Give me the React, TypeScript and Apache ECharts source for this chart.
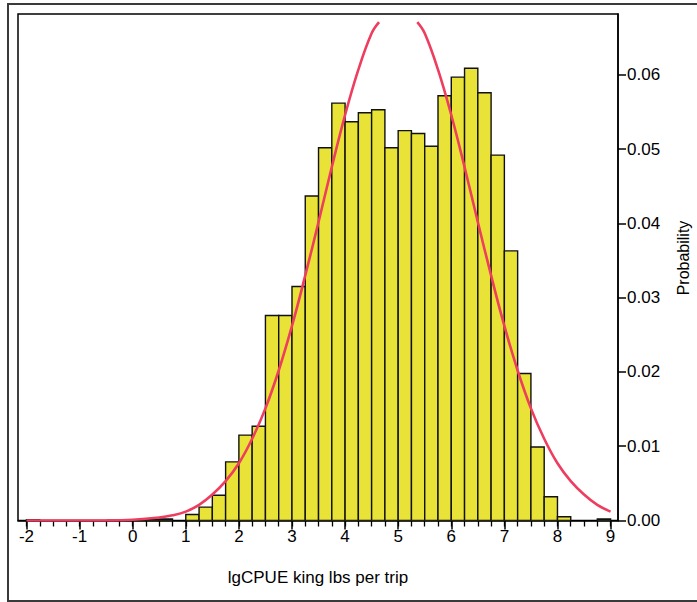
import React, { useEffect, useRef } from "react";
import * as echarts from "echarts";

// Histogram bins (left edge, width 0.25) and their probabilities
const binWidth = 0.25;
const binStart = [-2, 0, 0.25, 0.5, 1, 1.25, 1.5, 1.75, 2, 2.25, 2.5, 2.75, 3, 3.25, 3.5, 3.75, 4, 4.25, 4.5, 4.75, 5, 5.25, 5.5, 5.75, 6, 6.25, 6.5, 6.75, 7, 7.25, 7.5, 7.75, 8, 8.75];
const probability = [0.0001, 0.0001, 0.0001, 0.0002, 0.0008, 0.0018, 0.0034, 0.0079, 0.0115, 0.0127, 0.0276, 0.0276, 0.0315, 0.0437, 0.0502, 0.0562, 0.0537, 0.0549, 0.0553, 0.0502, 0.0525, 0.0521, 0.0504, 0.0572, 0.0597, 0.0609, 0.0576, 0.0492, 0.0363, 0.0198, 0.0099, 0.0032, 0.0005, 0.0002];

// Fitted density curve; "-" = leaves the plot at the top
const curveX = [-2, -1.5, -1, -0.5, 0, 0.5, 0.75, 1, 1.25, 1.5, 1.75, 2, 2.25, 2.5, 2.75, 3, 3.25, 3.5, 3.75, 4, 4.25, 4.5, 4.64, 5, 5.36, 5.5, 5.75, 6, 6.25, 6.5, 6.75, 7, 7.25, 7.5, 7.75, 8, 8.25, 8.5, 8.75, 9];
const curveY: (number | string)[] = [0, 0, 0, 0.00001, 0.0001, 0.0004, 0.0007, 0.0012, 0.0021, 0.0035, 0.0053, 0.0077, 0.011, 0.0151, 0.0202, 0.0262, 0.033, 0.0402, 0.0476, 0.0546, 0.0607, 0.0656, 0.0671, "-", 0.0671, 0.0656, 0.0607, 0.0546, 0.0476, 0.0402, 0.033, 0.0262, 0.0202, 0.0151, 0.011, 0.0077, 0.0053, 0.0035, 0.0021, 0.0012];

const xTicks = [-2, -1, 0, 1, 2, 3, 4, 5, 6, 7, 8, 9];
const yTicks = [0, 0.01, 0.02, 0.03, 0.04, 0.05, 0.06];

const xTitle = "lgCPUE king lbs per trip";
const yTitle = "Probability";

const FONT = "'Liberation Sans', Arial, sans-serif";

export default function App() {
  const ref = useRef<HTMLDivElement>(null);

  useEffect(() => {
    if (!ref.current) return;
    const chart = echarts.init(ref.current, undefined, { renderer: "svg" });

    const minorTicks: number[] = [];
    xTicks.forEach((t) => {
      [0, 0.25, 0.5, 0.75].forEach((f) => {
        if (t + f <= 9) minorTicks.push(t + f);
      });
    });

    const barData = binStart.map((s, i) => [s, s + binWidth, probability[i]]);
    const lineData = curveX.map((x, i) => [x, curveY[i]]);

    const option: any = {
      animation: false,
      backgroundColor: "#fff",
      textStyle: { fontFamily: FONT },
      grid: {
        left: 18,
        top: 14,
        width: 600,
        height: 506.5,
        show: true,
        borderColor: "#000",
        borderWidth: 1.5,
        backgroundColor: "transparent",
      },
      xAxis: [
        {
          type: "value",
          min: -2.16,
          max: 9.14,
          position: "bottom",
          axisLine: { show: true, onZero: false, lineStyle: { color: "#000", width: 1.5 } },
          axisTick: { show: true, customValues: xTicks, length: 9, lineStyle: { color: "#000", width: 1.5 } },
          axisLabel: { customValues: xTicks, fontSize: 17, color: "#000", margin: 7, fontFamily: FONT },
          splitLine: { show: false },
        },
        {
          type: "value",
          min: -2.16,
          max: 9.14,
          position: "bottom",
          axisLine: { show: false, onZero: false },
          axisTick: { show: true, customValues: minorTicks, length: 6, lineStyle: { color: "#000", width: 1.3 } },
          axisLabel: { show: false },
          splitLine: { show: false },
        },
      ],
      yAxis: {
        type: "value",
        position: "right",
        min: 0,
        max: 0.0682,
        axisLine: { show: true, onZero: false, lineStyle: { color: "#000", width: 1.5 } },
        axisTick: { show: true, customValues: yTicks, length: 8, lineStyle: { color: "#000", width: 1.5 } },
        axisLabel: {
          customValues: yTicks,
          fontSize: 17,
          color: "#000",
          margin: 9,
          fontFamily: FONT,
          formatter: (v: number) => v.toFixed(2),
        },
        splitLine: { show: false },
      },
      series: [
        {
          type: "custom",
          clip: true,
          xAxisIndex: 0,
          data: barData,
          encode: { x: [0, 1], y: 2 },
          renderItem: (params: any, api: any) => {
            const p0 = api.coord([api.value(0), api.value(2)]);
            const p1 = api.coord([api.value(1), 0]);
            return {
              type: "rect",
              shape: { x: p0[0], y: p0[1], width: p1[0] - p0[0], height: p1[1] - p0[1] },
              style: { fill: "#E9E337", stroke: "#111", lineWidth: 1.4 },
            };
          },
          z: 2,
        },
        {
          type: "line",
          xAxisIndex: 0,
          data: lineData,
          smooth: 0.4,
          connectNulls: false,
          showSymbol: false,
          symbol: "none",
          lineStyle: { color: "#EE3D5E", width: 2.6 },
          clip: true,
          z: 3,
        },
      ],
      graphic: [
        {
          type: "rect",
          silent: true,
          z: -10,
          shape: { x: 8, y: 4, width: 700, height: 597 },
          style: { fill: "none", stroke: "#3a3a3a", lineWidth: 2 },
        },
        {
          type: "text",
          silent: true,
          x: 318,
          y: 577,
          style: {
            text: xTitle,
            fill: "#000",
            font: `17px ${FONT}`,
            textAlign: "center",
            textVerticalAlign: "middle",
            align: "center",
            verticalAlign: "middle",
          },
        },
        {
          type: "text",
          silent: true,
          x: 683,
          y: 258,
          rotation: Math.PI / 2,
          style: {
            text: yTitle,
            fill: "#000",
            font: `16px ${FONT}`,
            textAlign: "center",
            textVerticalAlign: "middle",
            align: "center",
            verticalAlign: "middle",
          },
        },
      ],
    };

    chart.setOption(option);
    return () => chart.dispose();
  }, []);

  return (
    <div
      ref={ref}
      style={{ position: "absolute", left: 0, top: 0, width: 697, height: 602 }}
    />
  );
}
